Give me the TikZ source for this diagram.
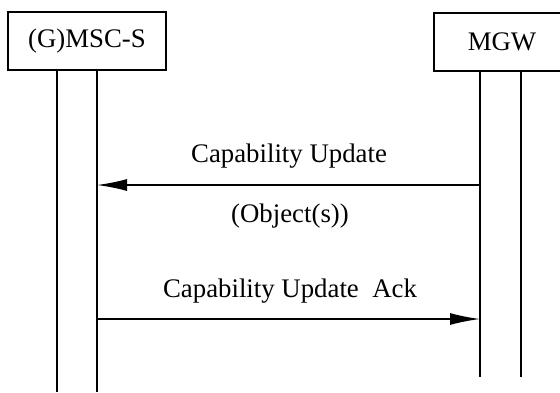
\documentclass[tikz,border=0pt]{standalone}
\usepackage{fontspec}
\setmainfont{Liberation Serif}
\usetikzlibrary{positioning,arrows.meta}

\begin{document}
\begin{tikzpicture}[
x=0.5pt, y=-0.5pt,
entity/.style={draw, line width=0.75pt, minimum width=79pt, minimum height=29pt, inner sep=0pt, font=\fontsize{13.4}{16}\selectfont},
life/.style={line width=0.75pt},
msg/.style={-{Latex[length=15pt,width=6pt]}, line width=0.75pt},
lbl/.style={anchor=base, inner sep=0pt, font=\fontsize{13.4}{16}\selectfont}
]
\useasboundingbox (0,0) rectangle (560,392);
\node[entity] (msc) at (87,41) {(G)MSC-S};
\node[entity, minimum width=68pt] (mgw) at (502,42) {MGW};
% lifelines
\coordinate (mscL) at (57,392);
\coordinate (mscR) at (97,392);
\coordinate (mgwL) at (480,377);
\coordinate (mgwR) at (521,377);
\draw[life] (mscL |- msc.south) -- (mscL);
\draw[life] (mscR |- msc.south) -- (mscR);
\draw[life] (mgwL |- mgw.south) -- (mgwL);
\draw[life] (mgwR |- mgw.south) -- (mgwR);
% messages
\coordinate (upS) at (97,185);
\coordinate (upM) at (480,185);
\coordinate (ackS) at (97,319);
\coordinate (ackM) at (480,319);
\draw[msg] (upM) -- (upS);
\draw[msg] (ackS) -- (ackM);
\node[lbl] (upd) at (289,162) {Capability Update};
\node[lbl] (obj) at (290,222) {(Object(s))};
\node[lbl] (ack) at (290,297) {Capability Update\ \ Ack};
\end{tikzpicture}
\end{document}
